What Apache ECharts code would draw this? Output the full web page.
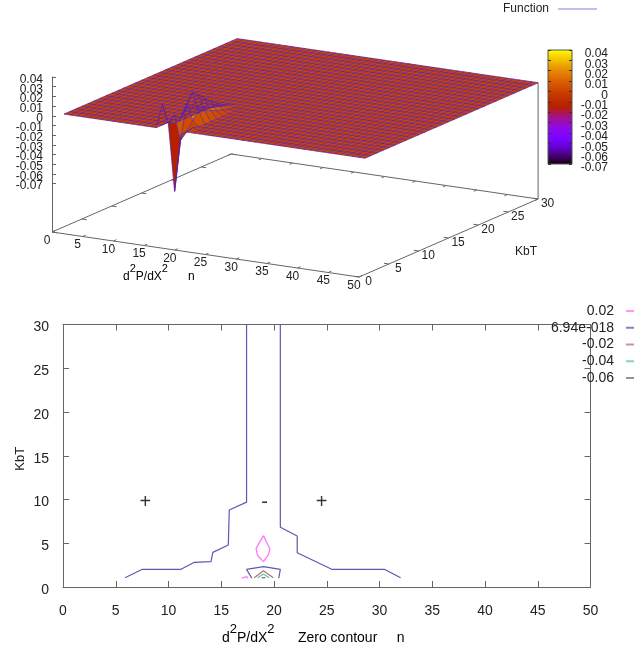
<!DOCTYPE html>
<html>
<head>
<meta charset="utf-8">
<style>
  html, body { margin: 0; padding: 0; background: #fff; }
  #chart { width: 644px; height: 653px; }
</style>
</head>
<body>
<div id="chart"></div>
<script src="https://cdn.jsdelivr.net/npm/echarts@6/dist/echarts.min.js"></script>
<script>
// axis ticks
const nTicks = [0, 5, 10, 15, 20, 25, 30, 35, 40, 45, 50];
const kbtTicks = [0, 5, 10, 15, 20, 25, 30];
const zTickLabels = ['-0.07', '-0.06', '-0.05', '-0.04', '-0.03', '-0.02', '-0.01', '0', '0.01', '0.02', '0.03', '0.04'];

// surface sample positions
const surfaceN = [1,2,3,4,5,6,7,8,9,10,11,12,13,14,15,16,17,18,19,20,21,22,23,24,25,26,27,28,29,30,31,32,33,34,35,36,37,38,39,40,41,42,43,44,45,46,47,48,49,50];
const surfaceKbt = [1,2,3,4,5,6,7,8,9,10,11,12,13,14,15,16,17,18,19,20,21,22,23,24,25,26,27,28,29,30];
// surface is flat at 0 apart from these [n, kbt, z] samples
const surfaceBump = [
  [17,1,0.025],[18,1,0.005],[19,1,-0.063],[20,1,-0.004],
  [17,2,0.004],[18,2,0.012],[19,2,-0.013],[20,2,-0.003],[21,2,0.002],
  [18,3,0.006],[19,3,0.022],[20,3,0.006],
  [18,4,0.015],[19,4,0.0314],[20,4,0.013],
  [18,5,0.012],[19,5,0.026],[20,5,0.011],
  [18,6,0.009],[19,6,0.0195],[20,6,0.008],
  [18,7,0.006],[19,7,0.014],[20,7,0.005],
  [18,8,0.004],[19,8,0.009],[20,8,0.003],
  [18,9,0.002],[19,9,0.005],[20,9,0.001],
  [19,10,0.002]
];

// zero contour and the other levels, one list per line piece, [n, kbt]
const contour002 = [
  [[19,5.87],[19.62,4.34],[19.46,3.66],[19,2.9],[18.42,3.66],[18.3,4.42],[19,5.87]],
  [[16.94,1],[17.4,1.18],[17.55,1]]
];
const contourZero = [
  [[17.4,30],[17.4,9.7],[15.76,8.8],[15.67,4.8],[14.2,3.96],[14.03,2.9],[12.45,2.82],[11.18,2.02],[7.52,2.02],[5.88,1.06]],
  [[20.6,30],[20.6,6.82],[22.2,5.83],[22.2,3.92],[25.47,2.02],[30.46,2.02],[32,1.06]],
  [[17.9,1],[17.4,2.02],[19,2.32],[20.6,2.02],[20.45,1]]
];
const contourM002 = [[[18.13,1.06],[19,1.86],[19.93,1.06]]];
const contourM004 = [[[18.45,1.06],[19,1.49],[19.53,1.06]]];
const contourM006 = [[[18.83,1.06],[19,1.22],[19.18,1.06]]];
const signMarks = [[7.8,9.9,'+'],[19.1,9.9,'-'],[24.5,9.9,'+']];

const fontName = '"Liberation Sans", Arial, sans-serif';
const textColor = '#222';
const axisColor = '#666';

// oblique view of the 3d box: px per unit of kbt / n added on top of the n and z axes
const kbtDx = 5.97, kbtDy = -2.6, nDy = 0.9;

const chart = echarts.init(document.getElementById('chart'));

const zLookup = {};
surfaceBump.forEach(d => { zLookup[d[0] + '_' + d[1]] = d[2]; });
function zAt(n, k) { return zLookup[n + '_' + k] || 0; }

function project(api, n, k, z) {
  const c = api.coord([n, z]);
  return [c[0] + k * kbtDx, c[1] + n * nDy + k * kbtDy];
}

// gnuplot default pm3d palette (7,5,15)
function palette(g) {
  const r = Math.sqrt(g), gr = g * g * g, b = Math.max(0, Math.sin(2 * Math.PI * g));
  return 'rgb(' + Math.round(r * 255) + ',' + Math.round(gr * 255) + ',' + Math.round(b * 255) + ')';
}
function zColor(z) { return palette((z + 0.07) / 0.11); }

// same scan order as gnuplot: low kbt first, so the flat rows paint over the bump
const cells = [];
surfaceKbt.slice(0, -1).forEach((k, ki) => {
  surfaceN.slice(0, -1).forEach((n, ni) => {
    cells.push([n, surfaceN[ni + 1], k, surfaceKbt[ki + 1]]);
  });
});

function renderCell(params, api) {
  const n0 = api.value(0), n1 = api.value(1), k0 = api.value(2), k1 = api.value(3);
  const zs = [zAt(n0, k0), zAt(n1, k0), zAt(n1, k1), zAt(n0, k1)];
  const mean = (zs[0] + zs[1] + zs[2] + zs[3]) / 4;
  const col = zColor(mean);
  return {
    type: 'polygon',
    shape: { points: [project(api, n0, k0, zs[0]), project(api, n1, k0, zs[1]), project(api, n1, k1, zs[2]), project(api, n0, k1, zs[3])] },
    style: { fill: col, stroke: col, lineWidth: 0.4 },
    silent: true
  };
}

function renderWire(params, api) {
  const children = [];
  const wire = { fill: null, stroke: 'rgba(70,30,200,0.62)', lineWidth: 1 };
  surfaceN.forEach(n => {
    children.push({ type: 'polyline', shape: { points: surfaceKbt.map(k => project(api, n, k, zAt(n, k))) }, style: wire, silent: true });
  });
  surfaceKbt.forEach(k => {
    children.push({ type: 'polyline', shape: { points: surfaceN.map(n => project(api, n, k, zAt(n, k))) }, style: wire, silent: true });
  });
  return { type: 'group', children: children };
}

// base of the 3d box, its ticks and tick labels
function renderBox(params, api) {
  const zBase = -0.12;
  const line = (a, b) => ({ type: 'line', shape: { x1: a[0], y1: a[1], x2: b[0], y2: b[1] }, style: { stroke: axisColor, lineWidth: 1 }, silent: true });
  const label = (p, txt) => ({ type: 'text', x: p[0], y: p[1], style: { text: String(txt), font: '12px ' + fontName, fill: textColor, align: 'center', verticalAlign: 'middle' }, silent: true });
  const children = [
    line(project(api, 0, 0, zBase), project(api, 50, 0, zBase)),
    line(project(api, 50, 0, zBase), project(api, 50, 30, zBase)),
    line(project(api, 50, 30, zBase), project(api, 0, 30, zBase)),
    line(project(api, 0, 30, zBase), project(api, 0, 0, zBase)),
    line(project(api, 50, 30, zBase), project(api, 50, 30, 0))
  ];
  nTicks.forEach(n => {
    children.push(line(project(api, n, 0, zBase), project(api, n, 0.5, zBase)));
    children.push(line(project(api, n, 30, zBase), project(api, n, 29.5, zBase)));
    const p = project(api, n, 0, zBase);
    children.push(label([p[0] - 5, p[1] + 8.5], n));
  });
  kbtTicks.forEach(k => {
    children.push(line(project(api, 50, k, zBase), project(api, 49.2, k, zBase)));
    children.push(line(project(api, 0, k, zBase), project(api, 0.8, k, zBase)));
    const p = project(api, 50, k, zBase);
    children.push(label([p[0] + 9.5, p[1] + 4.5], k));
  });
  return { type: 'group', children: children };
}

function renderColorBar(params, api) {
  const top = api.coord([0, 0.04]), bottom = api.coord([0, -0.07]), size = api.size([1, 0]);
  const stops = [];
  for (let i = 0; i <= 32; i++) stops.push({ offset: i / 32, color: palette(1 - i / 32) });
  return {
    type: 'rect',
    shape: { x: top[0] - size[0] / 2, y: top[1], width: size[0], height: bottom[1] - top[1] },
    style: { fill: new echarts.graphic.LinearGradient(0, 0, 0, 1, stops), stroke: '#555', lineWidth: 1 },
    silent: true
  };
}

const contourLevels = [
  { name: '0.02', color: '#ff70ff', pieces: contour002 },
  { name: '6.94e-018', color: '#5a5ab4', pieces: contourZero },
  { name: '-0.02', color: '#b87070', pieces: contourM002 },
  { name: '-0.04', color: '#60c0b8', pieces: contourM004 },
  { name: '-0.06', color: '#707070', pieces: contourM006 }
];

const series = [
  { type: 'custom', name: 'box', xAxisIndex: 2, yAxisIndex: 2, coordinateSystem: 'cartesian2d', renderItem: renderBox, data: [[0]], z: 1, silent: true },
  { type: 'custom', name: 'cells', xAxisIndex: 2, yAxisIndex: 2, coordinateSystem: 'cartesian2d', renderItem: renderCell, data: cells, encode: { x: 0, y: 2 }, z: 2, progressive: 0, silent: true },
  { type: 'custom', name: 'Function', color: '#8080e0', xAxisIndex: 2, yAxisIndex: 2, coordinateSystem: 'cartesian2d', renderItem: renderWire, data: [[0]], z: 3, silent: true },
  { type: 'custom', name: 'bar', xAxisIndex: 3, yAxisIndex: 3, coordinateSystem: 'cartesian2d', renderItem: renderColorBar, data: [[0, 0]], z: 2, silent: true },
  {
    type: 'scatter', name: 'signs', xAxisIndex: 0, yAxisIndex: 0, symbolSize: 1, itemStyle: { color: 'transparent' },
    data: signMarks,
    label: { show: true, position: 'inside', offset: [0, 2], formatter: p => p.value[2], fontFamily: fontName, fontSize: 20, color: '#000' },
    silent: true
  }
];
contourLevels.forEach(level => {
  level.pieces.forEach(piece => {
    series.push({
      type: 'line', name: level.name, xAxisIndex: 0, yAxisIndex: 0, data: piece,
      showSymbol: false, symbol: 'none', color: level.color, clip: false,
      lineStyle: { color: level.color, width: 1.2 }, silent: true
    });
  });
});

const plainLabel = { fontFamily: fontName, fontSize: 14, color: textColor };
const frameLine = { show: true, onZero: false, lineStyle: { color: axisColor, width: 1 } };
const frameTick = { show: true, inside: true, length: 6, lineStyle: { color: axisColor } };
const supStyle = { t: { fontFamily: fontName, fontSize: 14, color: textColor, lineHeight: 22, verticalAlign: 'bottom' }, s: { fontFamily: fontName, fontSize: 13, color: textColor, lineHeight: 22, verticalAlign: 'top' } };
const supStyleSmall = { t: { fontFamily: fontName, fontSize: 12, color: textColor, lineHeight: 20, verticalAlign: 'bottom' }, s: { fontFamily: fontName, fontSize: 11, color: textColor, lineHeight: 20, verticalAlign: 'top' } };

const option = {
  animation: false,
  backgroundColor: '#fff',
  tooltip: { show: false },
  legend: [
    {
      data: contourLevels.map(l => l.name), orient: 'vertical', align: 'right', right: 10, top: 304,
      icon: 'rect', itemWidth: 8, itemHeight: 2, itemGap: 2.75, padding: 0, selectedMode: false,
      itemStyle: { opacity: 0.75 },
      textStyle: { fontFamily: fontName, fontSize: 14, color: textColor, padding: [0, 7, 0, 0] }
    },
    {
      data: ['Function'], orient: 'vertical', align: 'right', right: 47, top: 3,
      icon: 'rect', itemWidth: 39, itemHeight: 1, padding: 0, selectedMode: false,
      textStyle: { fontFamily: fontName, fontSize: 12, color: textColor, padding: [4, 4, 0, 0] }
    }
  ],
  grid: [
    { left: 63, top: 324.5, width: 527.5, height: 262.5, outerBoundsMode: 'none' },
    { left: 52, top: 77, width: 307, height: 155, outerBoundsMode: 'none' },
    { left: 548, top: 50, width: 24, height: 114, outerBoundsMode: 'none' },
    { left: 52, top: 77, width: 307, height: 106.6, outerBoundsMode: 'none' }
  ],
  xAxis: [
    { gridIndex: 0, type: 'value', min: 0, max: 50, interval: 5, position: 'bottom', axisLine: frameLine, axisTick: frameTick, splitLine: { show: false }, axisLabel: Object.assign({ margin: 17 }, plainLabel) },
    { gridIndex: 0, type: 'value', min: 0, max: 50, interval: 5, position: 'top', axisLine: frameLine, axisTick: frameTick, splitLine: { show: false }, axisLabel: { show: false } },
    { gridIndex: 1, type: 'value', min: 0, max: 50, show: false },
    { gridIndex: 2, type: 'category', data: [0], show: false },
    { gridIndex: 3, type: 'value', min: 0, max: 50, show: false }
  ],
  yAxis: [
    { gridIndex: 0, type: 'value', min: 0, max: 30, interval: 5, position: 'left', axisLine: frameLine, axisTick: frameTick, splitLine: { show: false }, axisLabel: Object.assign({ margin: 14, verticalAlign: 'top', lineHeight: 6 }, plainLabel), name: 'KbT', nameLocation: 'middle', nameGap: 36, nameRotate: 90, nameMoveOverlap: false, nameTextStyle: { fontFamily: fontName, fontSize: 13, color: textColor, padding: [0, 6, 0, 0] } },
    { gridIndex: 0, type: 'value', min: 0, max: 30, interval: 5, position: 'right', axisLine: frameLine, axisTick: frameTick, splitLine: { show: false }, axisLabel: { show: false } },
    // z axis line of the 3d box, down to the base plane
    { gridIndex: 1, type: 'value', min: -0.12, max: 0.04, position: 'left', z: 1, axisLine: frameLine, splitLine: { show: false }, axisTick: { show: false }, axisLabel: { show: false } },
    { gridIndex: 2, type: 'value', min: -0.07, max: 0.04, interval: 0.01, position: 'left', z: 5, axisLine: { show: false }, axisTick: { show: true, inside: true, length: 3, lineStyle: { color: '#333' } }, axisLabel: { show: false }, splitLine: { show: false } },
    // labels of the colour bar
    {
      gridIndex: 2, type: 'category', data: zTickLabels, boundaryGap: false, position: 'right', z: 5, axisLine: { show: false }, splitLine: { show: false },
      axisTick: { show: true, inside: true, length: 3, alignWithLabel: true, interval: 0, lineStyle: { color: '#333' } },
      axisLabel: { interval: 0, margin: 36, align: 'right', verticalAlign: 'top', lineHeight: 8, fontFamily: fontName, fontSize: 12, color: textColor }
    },
    // tick labels of the z axis, they stop at -0.07 above the base plane
    {
      gridIndex: 3, type: 'category', data: zTickLabels, boundaryGap: false, position: 'left', z: 1, axisLine: { show: false }, splitLine: { show: false },
      axisTick: { show: true, inside: true, length: 4, alignWithLabel: true, interval: 0, lineStyle: { color: axisColor } },
      axisLabel: { interval: 0, margin: 9, verticalAlign: 'top', lineHeight: 5, fontFamily: fontName, fontSize: 12, color: textColor }
    }
  ],
  series: series,
  graphic: [
    { type: 'text', left: 123, top: 263, silent: true, style: { text: '{t|d}{s|2}{t|P/dX}{s|2}{t|      n}', rich: supStyleSmall } },
    { type: 'text', left: 222, top: 623, silent: true, style: { text: '{t|d}{s|2}{t|P/dX}{s|2}{t|      Zero contour     n}', rich: supStyle } },
    { type: 'text', left: 515, top: 246, silent: true, style: { text: 'KbT', font: '12px ' + fontName, fill: textColor } }
  ]
};

chart.setOption(option);
</script>
</body>
</html>
